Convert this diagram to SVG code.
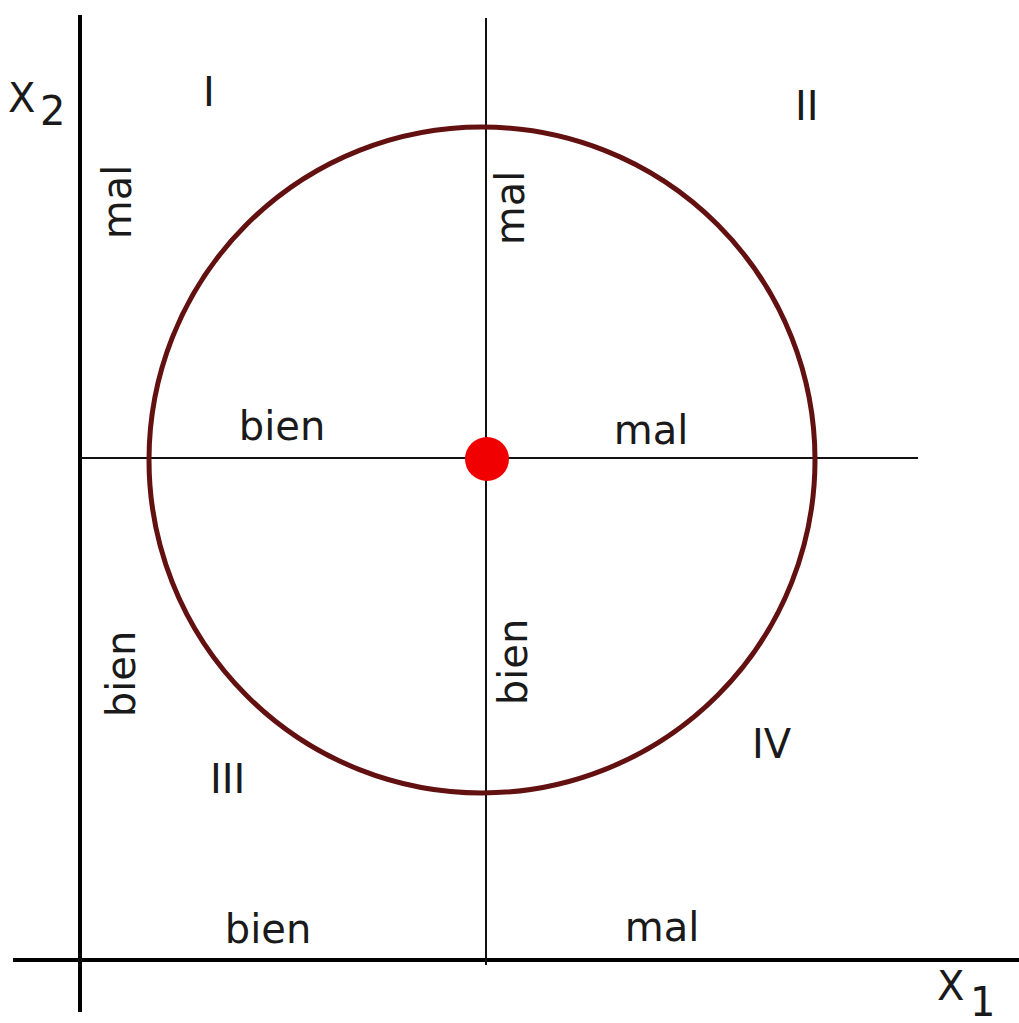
<svg xmlns="http://www.w3.org/2000/svg" width="1019" height="1023" viewBox="0 0 1019 1023">
<style>
text{font-family:"DejaVu Sans",sans-serif;font-size:40px;fill:#1a1a1a}
.ax{stroke:#000;stroke-width:4}
.ln{stroke:#111;stroke-width:2}
</style>
<rect width="1019" height="1023" fill="#fff"/>
<g id="connectors">
<line class="ax" x1="80" y1="15" x2="80" y2="1012"/>
<line class="ax" x1="13" y1="960" x2="1019" y2="960"/>
<line class="ln" x1="486" y1="18" x2="486" y2="965"/>
<line class="ln" x1="80" y1="458" x2="918" y2="458"/>
</g>
<g id="circle"><circle cx="482" cy="460" r="333" fill="none" stroke="#621010" stroke-width="5"/></g>
<g id="dot"><circle cx="487" cy="459" r="22" fill="#f00000"/></g>
<g id="labels">
<text x="8" y="112">X</text><text x="40" y="125" font-size="36">2</text>
<text x="937" y="1000">X</text><text x="970" y="1016" font-size="34">1</text>
<text x="203" y="106">I</text>
<text x="795" y="120">II</text>
<text x="210" y="793">III</text>
<text x="752" y="758">IV</text>
<text x="282" y="440" text-anchor="middle">bien</text>
<text x="651" y="444" text-anchor="middle">mal</text>
<text x="268" y="943" text-anchor="middle">bien</text>
<text x="662" y="941" text-anchor="middle">mal</text>
<text transform="translate(131,202) rotate(-90)" text-anchor="middle">mal</text>
<text transform="translate(524,208) rotate(-90)" text-anchor="middle">mal</text>
<text transform="translate(135,674) rotate(-90)" text-anchor="middle">bien</text>
<text transform="translate(527,662) rotate(-90)" text-anchor="middle">bien</text>
</g>
</svg>
